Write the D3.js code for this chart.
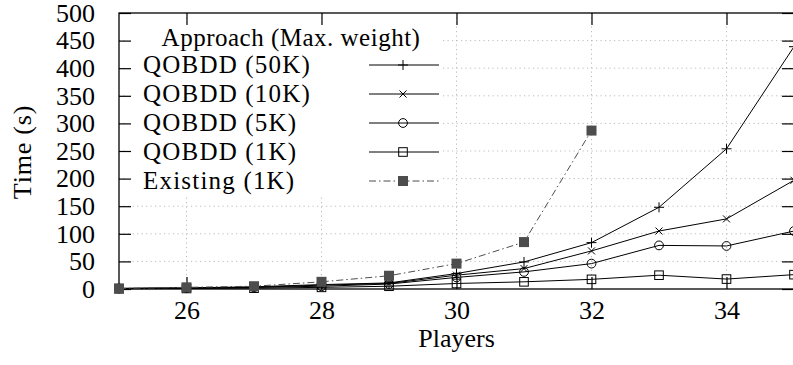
<!DOCTYPE html>
<html>
<head>
<meta charset="utf-8">
<style>
body { margin: 0; background: #fff; }
svg { display: block; }
svg text { font-family: "Liberation Serif", "DejaVu Serif", serif !important; fill: #000; }
</style>
</head>
<body>
<svg width="793" height="365"></svg>
<script src="https://d3js.org/d3.v7.min.js"></script>
<script>
// data
var players = [25, 26, 27, 28, 29, 30, 31, 32, 33, 34, 35];
var q50k = [1, 2, 4, 8, 11, 28, 49, 84, 148, 254, 439];
var q10k = [1, 2, 3, 7, 10, 25, 37, 69, 105, 127, 197];
var q5k = [1, 1.5, 3, 5, 9, 21, 31, 46, 79, 78, 105];
var q1k = [0.5, 1, 1.5, 3, 5, 10, 13, 17.5, 25, 18, 26];
var existing = [1, 3, 5, 13, 24, 46, 85, 287];
var xTicks = [26, 28, 30, 32, 34];
var yTicks = [0, 50, 100, 150, 200, 250, 300, 350, 400, 450, 500];
var seriesNames = ["QOBDD (50K)", "QOBDD (10K)", "QOBDD (5K)", "QOBDD (1K)", "Existing (1K)"];
var legendTitle = "Approach (Max. weight)";

var svg = d3.select("svg"),
    margin = {top: 13, left: 119},
    width = 675,
    height = 276,
    g = svg.append("g").attr("transform", "translate(" + margin.left + "," + margin.top + ")");

var x = d3.scaleLinear().domain([25, 35]).range([0, width]);
var y = d3.scaleLinear().domain([0, 500]).range([height, 0]);

var series = [
  {name: seriesNames[0], values: q50k, marker: "plus", color: "#000", dash: null},
  {name: seriesNames[1], values: q10k, marker: "cross", color: "#000", dash: null},
  {name: seriesNames[2], values: q5k, marker: "circle", color: "#000", dash: null},
  {name: seriesNames[3], values: q1k, marker: "square", color: "#000", dash: null},
  {name: seriesNames[4], values: existing, marker: "filled", color: "#4d4d4d", dash: "7,3,1.5,3"}
];

// grid
g.append("g").selectAll("line")
    .data(yTicks.filter(function(d) { return d > 0 && d < 500; }))
  .enter().append("line")
    .attr("x1", 0).attr("x2", width)
    .attr("y1", y).attr("y2", y)
    .attr("stroke", "#bbb").attr("stroke-width", 1)
    .attr("stroke-dasharray", "1.2,3.3");

g.append("g").selectAll("line")
    .data(xTicks)
  .enter().append("line")
    .attr("x1", x).attr("x2", x)
    .attr("y1", 0).attr("y2", height)
    .attr("stroke", "#bbb").attr("stroke-width", 1)
    .attr("stroke-dasharray", "1.2,3.3");

// legend background
var lg = g.append("g").attr("transform", "translate(8,13)");
lg.append("rect")
    .attr("width", 315).attr("height", 170)
    .attr("fill", "#fff");

// axes (ticks pointing inward, on all four sides)
var tk = 12;
g.append("g")
    .attr("transform", "translate(0," + height + ")")
    .call(d3.axisBottom(x).tickValues(xTicks).tickSize(-tk).tickPadding(12))
    .call(function(a) { a.select(".domain").remove(); })
    .selectAll("text").attr("font-size", 26);

g.append("g")
    .call(d3.axisTop(x).tickValues(xTicks).tickSize(-tk).tickFormat(""))
    .call(function(a) { a.select(".domain").remove(); });

g.append("g")
    .call(d3.axisLeft(y).tickValues(yTicks).tickSize(-tk).tickPadding(24))
    .call(function(a) { a.select(".domain").remove(); })
    .selectAll("text").attr("font-size", 26);

g.append("g")
    .attr("transform", "translate(" + width + ",0)")
    .call(d3.axisRight(y).tickValues(yTicks).tickSize(-tk).tickFormat(""))
    .call(function(a) { a.select(".domain").remove(); });

g.selectAll(".tick line").attr("stroke", "#000").attr("stroke-width", 1.2);

g.append("rect")
    .attr("width", width).attr("height", height)
    .attr("fill", "none").attr("stroke", "#000").attr("stroke-width", 1.3);

// markers
function drawMarker(sel, type, color) {
  if (type === "plus") {
    sel.append("path").attr("d", "M-5,0H5M0,-5V5")
      .attr("stroke", color).attr("stroke-width", 1).attr("fill", "none");
  } else if (type === "cross") {
    sel.append("path").attr("d", "M-3.5,-3.5L3.5,3.5M-3.5,3.5L3.5,-3.5")
      .attr("stroke", color).attr("stroke-width", 1).attr("fill", "none");
  } else if (type === "circle") {
    sel.append("circle").attr("r", 4.4)
      .attr("stroke", color).attr("stroke-width", 1).attr("fill", "none");
  } else if (type === "square") {
    sel.append("rect").attr("x", -4.3).attr("y", -4.3).attr("width", 8.6).attr("height", 8.6)
      .attr("stroke", color).attr("stroke-width", 1).attr("fill", "none");
  } else {
    sel.append("rect").attr("x", -5).attr("y", -5).attr("width", 10).attr("height", 10)
      .attr("fill", color);
  }
}

var line = d3.line()
    .x(function(d, i) { return x(players[i]); })
    .y(function(d) { return y(d); });

series.forEach(function(s) {
  g.append("path")
      .datum(s.values)
      .attr("d", line)
      .attr("fill", "none")
      .attr("stroke", s.color)
      .attr("stroke-width", 1)
      .attr("stroke-dasharray", s.dash);
  g.append("g").selectAll("g")
      .data(s.values)
    .enter().append("g")
      .attr("transform", function(d, i) { return "translate(" + x(players[i]) + "," + y(d) + ")"; })
      .each(function() { drawMarker(d3.select(this), s.marker, s.color); });
});

// legend content
lg.append("text")
    .attr("x", 164).attr("y", 20)
    .attr("text-anchor", "middle")
    .attr("font-size", 25)
    .attr("letter-spacing", 0.5)
    .text(legendTitle);

var item = lg.selectAll(".item")
    .data(series)
  .enter().append("g")
    .attr("class", "item")
    .attr("transform", function(d, i) { return "translate(0," + (39 + i * 29) + ")"; });

item.append("text")
    .attr("x", 16).attr("y", 0).attr("dy", "0.33em")
    .attr("font-size", 25)
    .attr("letter-spacing", 1.2)
    .text(function(d) { return d.name; });

item.append("line")
    .attr("x1", 242).attr("x2", 312)
    .attr("stroke", function(d) { return d.color; })
    .attr("stroke-width", 1)
    .attr("stroke-dasharray", function(d) { return d.dash; });

item.append("g")
    .attr("transform", "translate(276,0)")
    .each(function(d) { drawMarker(d3.select(this), d.marker, d.color); });

// axis titles
svg.append("text")
    .attr("x", margin.left + width / 2).attr("y", 347)
    .attr("text-anchor", "middle")
    .attr("font-size", 26)
    .text("Players");

svg.append("text")
    .attr("transform", "translate(31,152) rotate(-90)")
    .attr("text-anchor", "middle")
    .attr("font-size", 26)
    .attr("letter-spacing", 0.8)
    .text("Time (s)");
</script>
</body>
</html>
